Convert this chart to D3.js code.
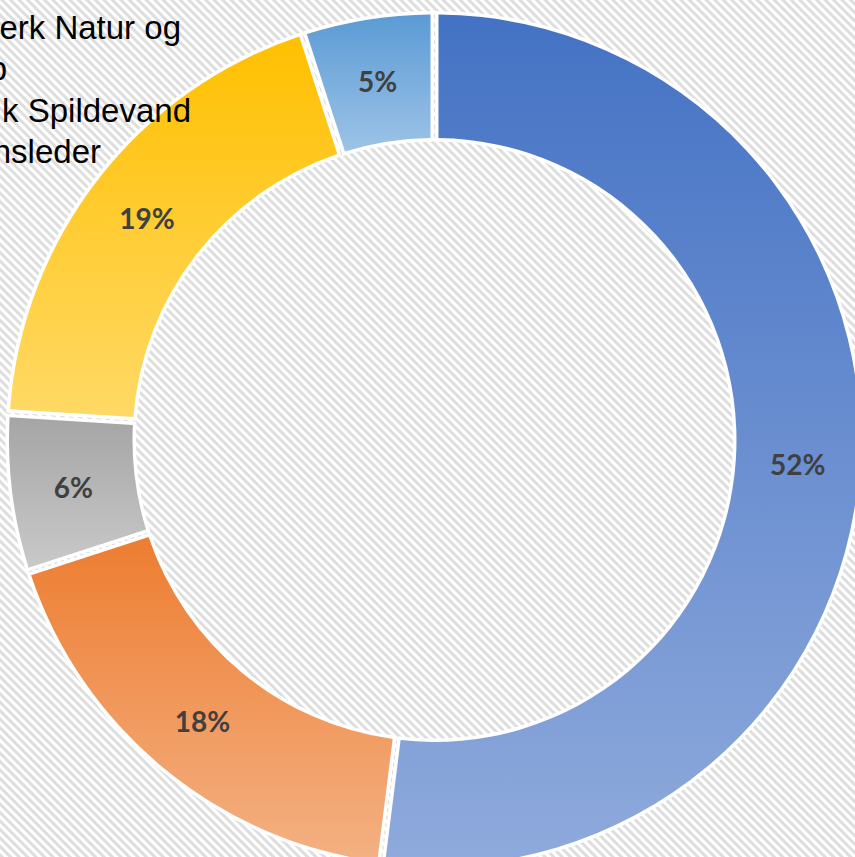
<!DOCTYPE html>
<html>
  <head>
    <meta charset="utf-8">
    <title>Donut</title>
    <script src="https://d3js.org/d3.v7.min.js"></script>
    <style type="text/css">
      body { margin: 0; overflow: hidden; background: #ffffff; }
      .legend { font-family: "Liberation Sans", Arial, sans-serif; font-size: 33px; fill: #000000; }
      .pct { font-family: Lato, "Open Sans", sans-serif; font-weight: bold; font-size: 28px; fill: #404040; }
    </style>
  </head>
  <body>
    <script type="text/javascript">

      // data, clockwise from 12 o'clock
      var categories = ["A", "B", "C", "D", "E"];
      var values = [52, 18, 6, 19, 5];
      var labels = ["52%", "18%", "6%", "19%", "5%"];
      var topColors = ["#4472C4", "#ED7D31", "#A5A5A5", "#FFC000", "#5B9BD5"];
      var bottomColors = ["#8FAADC", "#F4B183", "#C9C9C9", "#FFD966", "#9DC3E6"];

      // legend lines, left part falls outside the picture
      var legendLines = ["erk Natur og", "p", "k Spildevand", "nsleder"];
      var legendEnds = [181, 7, 191, 101];

      var width = 855, height = 857;
      var cx = 434.5, cy = 440;

      var svg = d3.select("body")
                  .append("svg")
                  .attr("width", width)
                  .attr("height", height);

      var defs = svg.append("defs");

      var hatch = defs.append("pattern")
          .attr("id", "hatch")
          .attr("width", 6)
          .attr("height", 6)
          .attr("patternUnits", "userSpaceOnUse")
          .attr("patternTransform", "rotate(-45)");
      hatch.append("rect").attr("width", 6).attr("height", 6).attr("fill", "#ffffff");
      hatch.append("rect").attr("width", 3).attr("height", 6).attr("fill", "#dedede");

      categories.forEach(function(c, i) {
        var g = defs.append("linearGradient")
            .attr("id", "grad" + i)
            .attr("x1", 0).attr("y1", 0)
            .attr("x2", 0).attr("y2", 1);
        g.append("stop").attr("offset", "0%").attr("stop-color", topColors[i]);
        g.append("stop").attr("offset", "100%").attr("stop-color", bottomColors[i]);
      });

      svg.append("rect")
          .attr("width", width)
          .attr("height", height)
          .attr("fill", "url(#hatch)");

      var pie = d3.pie()
          .sort(null)
          .value(function(d) { return d; });

      var arcs = pie(values);

      // white halo with a hairline gap between slices
      var halo = d3.arc()
          .innerRadius(298.5)
          .outerRadius(429)
          .padRadius(400)
          .padAngle(1.2 / 400);

      // coloured ring
      var ring = d3.arc()
          .innerRadius(302)
          .outerRadius(425.5)
          .padRadius(400)
          .padAngle(8 / 400);

      var labelArc = d3.arc()
          .innerRadius(364)
          .outerRadius(364);

      var chart = svg.append("g")
          .attr("transform", "translate(" + cx + "," + cy + ")");

      chart.selectAll("path.halo")
          .data(arcs)
          .enter()
          .append("path")
          .attr("class", "halo")
          .attr("d", halo)
          .attr("fill", "#ffffff");

      chart.selectAll("path.slice")
          .data(arcs)
          .enter()
          .append("path")
          .attr("class", "slice")
          .attr("d", ring)
          .attr("fill", function(d, i) { return "url(#grad" + i + ")"; });

      chart.selectAll("text.pct")
          .data(arcs)
          .enter()
          .append("text")
          .attr("class", "pct")
          .attr("text-anchor", "middle")
          .attr("dominant-baseline", "central")
          .attr("transform", function(d) {
            var p = labelArc.centroid(d);
            return "translate(" + p[0] + "," + (p[1] + 1) + ")";
          })
          .text(function(d, i) { return labels[i]; });

      svg.selectAll("text.legend")
          .data(legendLines)
          .enter()
          .append("text")
          .attr("class", "legend")
          .attr("text-anchor", "end")
          .attr("x", function(d, i) { return legendEnds[i]; })
          .attr("y", function(d, i) { return 39 + i * 41.3; })
          .text(function(d) { return d; });

    </script>
  </body>
</html>
